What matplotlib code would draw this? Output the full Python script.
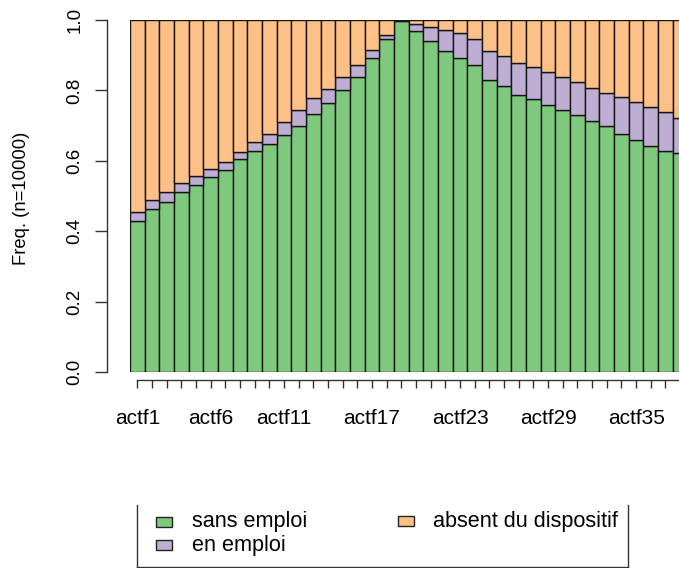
import matplotlib
matplotlib.use('Agg')
import matplotlib.pyplot as plt
import numpy as np
from matplotlib.patches import Rectangle
from matplotlib.lines import Line2D

plt.rcParams['font.family'] = ['Liberation Sans', 'DejaVu Sans']

# state distribution per month (share of the 10000 sequences)
months = ['actf%d' % i for i in range(1, 39)]
shown_labels = ['actf1', 'actf6', 'actf11', 'actf17', 'actf23', 'actf29', 'actf35']

sans_emploi = [0.429, 0.462, 0.482, 0.510, 0.530, 0.554, 0.573, 0.604, 0.629, 0.649,
               0.672, 0.699, 0.732, 0.763, 0.800, 0.837, 0.892, 0.946, 0.998, 0.970,
               0.940, 0.912, 0.893, 0.871, 0.829, 0.812, 0.787, 0.775, 0.758, 0.743,
               0.729, 0.712, 0.699, 0.675, 0.658, 0.642, 0.628, 0.621]
en_emploi = [0.025, 0.027, 0.028, 0.026, 0.028, 0.024, 0.025, 0.021, 0.023, 0.027,
             0.037, 0.045, 0.045, 0.042, 0.038, 0.034, 0.024, 0.010, 0.001, 0.018,
             0.040, 0.061, 0.070, 0.075, 0.083, 0.087, 0.092, 0.091, 0.094, 0.095,
             0.096, 0.095, 0.095, 0.105, 0.108, 0.111, 0.111, 0.102]
absent = [1 - a - b for a, b in zip(sans_emploi, en_emploi)]

states = ['sans emploi', 'en emploi', 'absent du dispositif']
colors = ['#7FC97F', '#BEAED4', '#FDC086']

W, H = 679, 568
fig = plt.figure(figsize=(W / 100, H / 100), dpi=100)

bar_w = 14.67
n = len(months)
ax = fig.add_axes([130 / W, 1 - 372 / H, n * bar_w / W, 352 / H])

x = np.arange(n) + 0.5
bottom = np.zeros(n)
for vals, col in zip([sans_emploi, en_emploi, absent], colors):
    ax.bar(x, vals, width=1.0, bottom=bottom, color=col,
           edgecolor='#151515', linewidth=1.0)
    bottom += np.array(vals)

ax.set_xlim(0, n)
ax.set_ylim(0, 1)

for s in ['top', 'right']:
    ax.spines[s].set_visible(False)
ax.spines['left'].set_position(('outward', 23 * 72 / 100))
ax.spines['left'].set_bounds(0, 1)
ax.spines['bottom'].set_position(('outward', 8 * 72 / 100))
ax.spines['bottom'].set_bounds(0.5, n + 5)
for s in ['left', 'bottom']:
    ax.spines[s].set_color('#333333')
    ax.spines[s].set_linewidth(1.0)

ax.set_yticks([0, 0.2, 0.4, 0.6, 0.8, 1.0])
ax.set_yticklabels(['0.0', '0.2', '0.4', '0.6', '0.8', '1.0'])
ax.tick_params(axis='y', length=12 * 0.72, width=1.0, color='#333333',
               labelsize=13.5, pad=8.5, labelrotation=90)
for lab in ax.get_yticklabels():
    lab.set_va('center')

ax.set_xticks(x)
ax.set_xticklabels([m if m in shown_labels else '' for m in months])
ax.tick_params(axis='x', length=8 * 0.72, width=1.0, color='#333333',
               labelsize=15, pad=15)

fig.text(22 / W, 1 - 198 / H, 'Freq. (n=10000)', rotation=90,
         ha='center', va='center', fontsize=13.3)

# legend panel below the plot
for xs, ys in [([137, 137], [505, 567]), ([137, 628], [567, 567]), ([628, 628], [505, 567])]:
    fig.add_artist(Line2D([v / W for v in xs], [1 - v / H for v in ys],
                          color='#333333', linewidth=1.0))

key_pos = [(156, 522, 192), (156, 545, 192), (398, 521, 433)]
for (kx, ky, tx), lab, col in zip(key_pos, states, colors):
    fig.add_artist(Rectangle((kx / W, 1 - (ky + 5) / H), 16 / W, 10 / H,
                             facecolor=col, edgecolor='#222222', linewidth=1.0,
                             transform=fig.transFigure))
    fig.text(tx / W, 1 - ky / H, lab, ha='left', va='center', fontsize=15.6)

fig.savefig('out.png', dpi=100)
